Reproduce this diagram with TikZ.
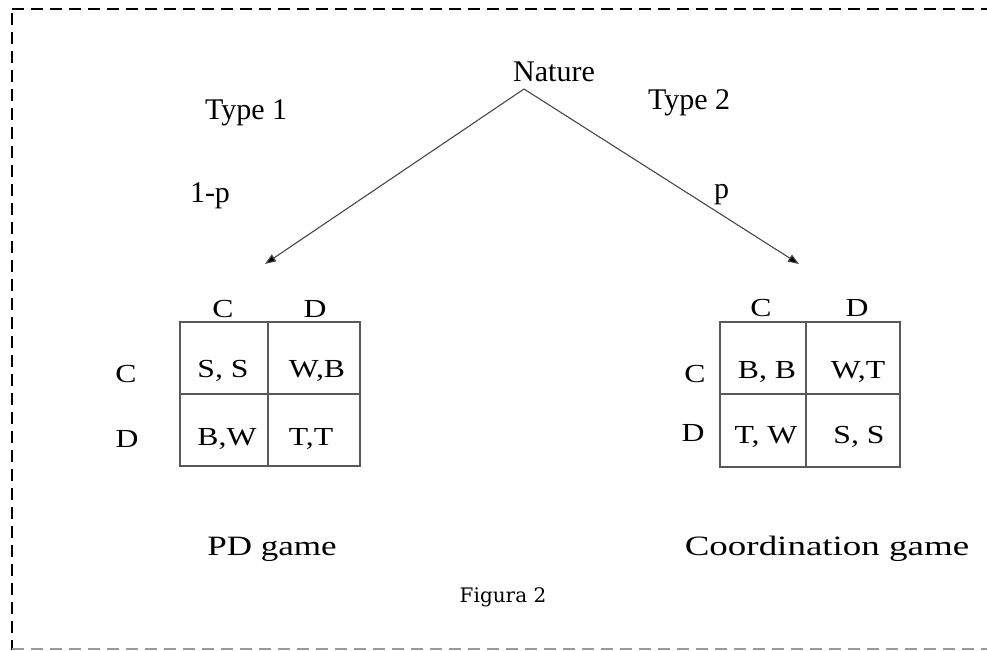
\documentclass[tikz,border=0pt]{standalone}
\usepackage{fontspec}
\setmainfont{Liberation Serif}
\newfontfamily\figfont{DejaVu Serif}
\usetikzlibrary{arrows.meta}
\newcommand{\sx}[1]{\scalebox{1.22}[1]{#1}}
\newcommand{\sxg}[2]{\scalebox{#1}[1]{#2}}
\tikzset{
  lbl/.style={anchor=base, inner sep=0pt, outer sep=0pt, font=\fontsize{30}{36}\selectfont},
  tlbl/.style={anchor=base, inner sep=0pt, outer sep=0pt, font=\fontsize{26}{30}\selectfont},
  glbl/.style={anchor=base, inner sep=0pt, outer sep=0pt, font=\fontsize{28}{32}\selectfont},
  cell/.style={draw=black!65, line width=1.2pt, inner sep=0pt, outer sep=0pt, anchor=north west, minimum height=72pt},
  branch/.style={draw=black!72, line width=1.1pt, -{Triangle[length=11pt,width=8pt,fill=black]}},
  border/.style={line width=2pt, dash pattern=on 12pt off 7pt},
}
\begin{document}
\begin{tikzpicture}[x=1pt,y=-1pt]
\useasboundingbox (0,0) rectangle (987,650);
% dashed frame
\draw[border, black] (12,9) -- (987,9);
\draw[border, black] (12,13) -- (12,650);
\draw[border, black!40] (12,649) -- (987,649);

% tree
\node[lbl] (nature) at (554,82) {Nature};
\coordinate (apex) at (524,89);
\coordinate (tipL) at (265,264);
\coordinate (tipR) at (799,264);
\draw[branch] (apex) -- (tipL);
\draw[branch] (apex) -- (tipR);
\node[lbl, anchor=base west] (type1) at (205,120) {Type 1};
\node[lbl, anchor=base west] (type2) at (648,110) {Type 2};
\node[lbl, anchor=base west] (q1) at (190,202) {1-p};
\node[lbl, anchor=base west] (q2) at (714,198) {p};

% left matrix (PD game)
\node[cell, minimum width=88pt] (L11) at (180,322) {};
\node[cell, minimum width=92pt] (L12) at (268,322) {};
\node[cell, minimum width=88pt] (L21) at (180,394) {};
\node[cell, minimum width=92pt] (L22) at (268,394) {};
\node[tlbl] (LcC) at (223,317) {\sx{C}};
\node[tlbl] (LcD) at (315,317) {\sx{D}};
\node[tlbl] (LrC) at (126,382) {\sx{C}};
\node[tlbl] (LrD) at (127,447) {\sx{D}};
\node[tlbl] (Lt11) at (223,377) {\sx{S, S}};
\node[tlbl] (Lt12) at (317,377) {\sx{W,B}};
\node[tlbl] (Lt21) at (227,445) {\sx{B,W}};
\node[tlbl] (Lt22) at (311,445) {\sx{T,T}};
\node[glbl] (pd) at (272,555) {\sxg{1.25}{PD game}};

% right matrix (Coordination game)
\node[cell, minimum width=86pt] (R11) at (720,322) {};
\node[cell, minimum width=94pt] (R12) at (806,322) {};
\node[cell, minimum width=86pt, minimum height=73pt] (R21) at (720,394) {};
\node[cell, minimum width=94pt, minimum height=73pt] (R22) at (806,394) {};
\node[tlbl] (RcC) at (761,316) {\sx{C}};
\node[tlbl] (RcD) at (857,316) {\sx{D}};
\node[tlbl] (RrC) at (695,382) {\sx{C}};
\node[tlbl] (RrD) at (693,441) {\sx{D}};
\node[tlbl] (Rt11) at (767,378) {\sx{B, B}};
\node[tlbl] (Rt12) at (858,378) {\sx{W,T}};
\node[tlbl] (Rt21) at (766,443) {\sx{T, W}};
\node[tlbl] (Rt22) at (859,443) {\sx{S, S}};
\node[glbl] (coord) at (827,555) {\sxg{1.32}{Coordination game}};

% caption
\node[anchor=base, inner sep=0pt, font=\figfont\fontsize{20}{24}\selectfont] (cap) at (503,602) {Figura 2};
\end{tikzpicture}
\end{document}
